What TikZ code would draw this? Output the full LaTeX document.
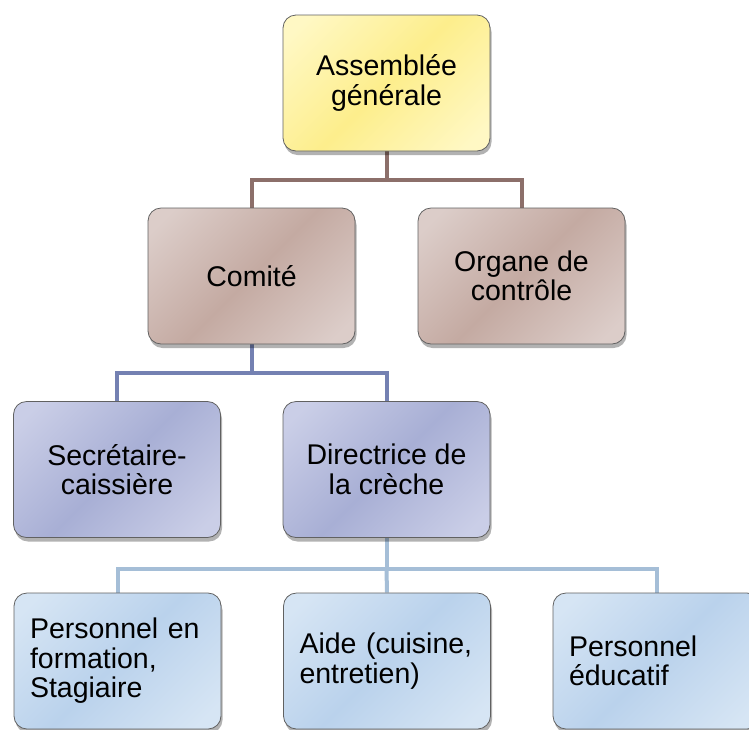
\documentclass[tikz,border=0pt]{standalone}
\usepackage{fontspec}
\setmainfont{Liberation Sans}
\usetikzlibrary{shadows,backgrounds}
\definecolor{ylA}{RGB}{255,248,196}
\definecolor{ylB}{RGB}{253,238,140}
\definecolor{brA}{RGB}{220,205,201}
\definecolor{brB}{RGB}{196,170,162}
\definecolor{puA}{RGB}{202,206,231}
\definecolor{puB}{RGB}{168,175,213}
\definecolor{lbA}{RGB}{214,229,244}
\definecolor{lbB}{RGB}{186,210,236}
\definecolor{brLine}{RGB}{140,111,106}
\definecolor{puLine}{RGB}{116,129,178}
\definecolor{lbLine}{RGB}{165,190,215}
\pgfdeclarehorizontalshading{ylsh}{100bp}{color(0bp)=(ylA); color(20bp)=(ylA); color(50bp)=(ylB); color(80bp)=(ylA); color(100bp)=(ylA)}
\pgfdeclarehorizontalshading{brsh}{100bp}{color(0bp)=(brA); color(20bp)=(brA); color(50bp)=(brB); color(80bp)=(brA); color(100bp)=(brA)}
\pgfdeclarehorizontalshading{push}{100bp}{color(0bp)=(puA); color(20bp)=(puA); color(50bp)=(puB); color(80bp)=(puA); color(100bp)=(puA)}
\pgfdeclarehorizontalshading{lbsh}{100bp}{color(0bp)=(lbA); color(20bp)=(lbA); color(50bp)=(lbB); color(80bp)=(lbA); color(100bp)=(lbA)}
\tikzset{
  orgbox/.style={rounded corners=13pt, draw=black!62, line width=0.8pt,
    minimum width=207pt, minimum height=136pt, inner sep=0pt, align=center,
    font=\fontsize{28.5}{29.5}\selectfont, shading angle=-45,
    drop shadow={shadow xshift=1.5pt, shadow yshift=-4pt, opacity=0.3, fill=black}},
  ylbox/.style={orgbox, shading=ylsh},
  brbox/.style={orgbox, shading=brsh},
  pubox/.style={orgbox, shading=push},
  lbbox/.style={orgbox, shading=lbsh, align=left, text width=175pt},
  conn/.style={line width=4pt},
}
\begin{document}
\begin{tikzpicture}[x=1pt,y=-1pt]
\useasboundingbox (0,0) rectangle (749,729);
\node[ylbox] (ag) at (386.5,83) {Assemblée\\générale};
\node[brbox] (com) at (251.5,276) {Comité};
\node[brbox] (org) at (521.5,276) {Organe de\\contrôle};
\node[pubox] (sec) at (117,469.5) {Secrétaire-\\caissière};
\node[pubox] (dir) at (386.5,469.5) {Directrice de\\la crèche};
\node[lbbox] (pf) at (117.5,661) {Personnel en\\formation,\\Stagiaire};
\node[lbbox] (aide) at (387,661) {Aide (cuisine,\\entretien)};
\node[lbbox] (pe) at (656.5,661) {Personnel\\éducatif};
\coordinate (b1) at (386.5,180);
\coordinate (b2) at (251.5,373);
\coordinate (b3) at (386.5,569);
\begin{scope}[on background layer]
\draw[conn, brLine] (ag.south) -- (b1);
\draw[conn, brLine] (com.north) |- (b1) -| (org.north);
\draw[conn, puLine] (com.south) -- (b2);
\draw[conn, puLine] (sec.north) |- (b2) -| (dir.north);
\draw[conn, lbLine] (dir.south) -- (b3);
\draw[conn, lbLine] (pf.north) |- (b3) -| (pe.north);
\draw[conn, lbLine] (b3) -- (aide.north);
\end{scope}
\end{tikzpicture}
\end{document}
